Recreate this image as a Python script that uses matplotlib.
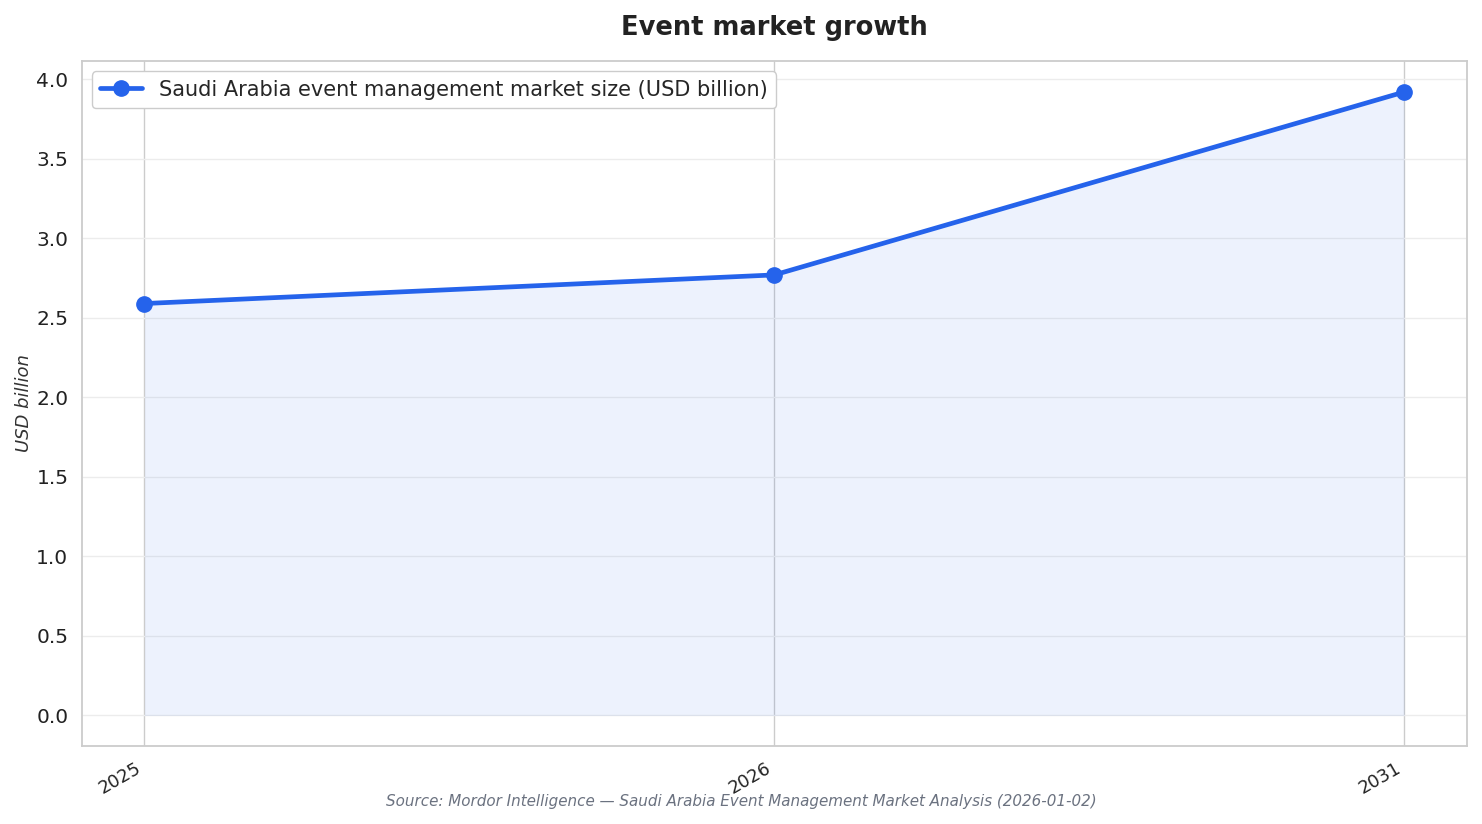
import matplotlib.pyplot as plt
import seaborn as sns

years = ["2025", "2026", "2031"]
market_size = [2.59, 2.77, 3.92]
series_label = "Saudi Arabia event management market size (USD billion)"

sns.set_theme(style="whitegrid")
plt.rcParams['font.family'] = ['DejaVu Sans']

fig, ax = plt.subplots(figsize=(14.82, 8.24), dpi=100)
x = list(range(len(years)))
ax.fill_between(x, market_size, 0, color="#2563EB", alpha=0.08, linewidth=0)
ax.plot(x, market_size, color="#2563EB", linewidth=3.4, marker="o", markersize=11,
        label=series_label)

ax.set_xticks(x)
ax.set_xticklabels(years, rotation=30, ha="right", fontsize=13, color="#222222")
ax.tick_params(axis="y", labelsize=14.5, colors="#222222")
ax.set_xlim(-0.1, 2.1)
ax.set_ylim(-0.19, 4.115)
ax.set_yticks([0, 0.5, 1.0, 1.5, 2.0, 2.5, 3.0, 3.5, 4.0])
ax.yaxis.set_major_formatter(plt.FormatStrFormatter('%.1f'))

ax.grid(True, color="#ececec", linewidth=1)
ax.xaxis.grid(True, color="#cccccc", linewidth=1)
for s in ax.spines.values():
    s.set_color("#cccccc")
    s.set_linewidth(1.3)

ax.set_ylabel("USD billion", fontsize=13, style="italic", color="#333333", labelpad=2)
ax.set_title("Event market growth", fontsize=18.5, fontweight="bold", color="#222222", pad=19)
ax.legend(loc="upper left", fontsize=15, frameon=True, framealpha=1, edgecolor="#cccccc",
          borderaxespad=0.5)

fig.text(0.5, 0.022, "Source: Mordor Intelligence — Saudi Arabia Event Management Market Analysis (2026-01-02)",
         ha="center", fontsize=10.9, style="italic", color="#6b7280")

fig.subplots_adjust(left=0.055, right=0.99, top=0.926, bottom=0.095)
fig.savefig("out.png", dpi=100)
